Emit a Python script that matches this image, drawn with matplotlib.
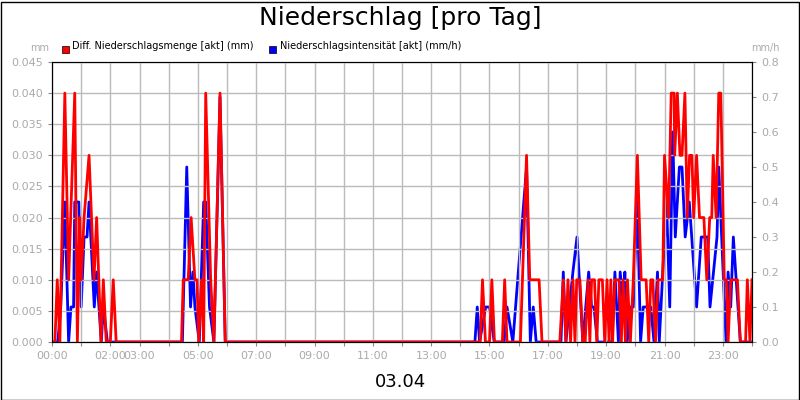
import matplotlib
matplotlib.use("Agg")
import matplotlib.pyplot as plt
from matplotlib.patches import Rectangle

red_t = [0, 0.1, 0.18, 0.27, 0.44, 0.57, 0.78, 0.87, 0.95, 1.0, 1.1, 1.27, 1.44, 1.53, 1.68, 1.76, 1.86, 2.0, 2.1, 2.2,
         4.44, 4.5, 4.67, 4.77, 4.9, 4.97, 5.03, 5.13, 5.2, 5.27, 5.44, 5.55, 5.76, 5.94,
         14.68, 14.76, 14.86, 15.0, 15.08, 15.17, 15.44, 15.52, 15.6, 16.06, 16.27, 16.38, 16.7, 16.8,
         17.41, 17.53, 17.62, 17.69, 17.78, 17.86, 17.93, 17.99, 18.1, 18.2, 18.28, 18.38, 18.44, 18.5, 18.6, 18.68,
         18.75, 18.87, 18.95, 19.03, 19.1, 19.16, 19.22, 19.3, 19.44, 19.52, 19.58, 19.66, 19.73, 19.83, 19.93,
         20.07, 20.2, 20.37, 20.46, 20.53, 20.6, 20.69, 20.78, 20.94, 21.0, 21.14, 21.23, 21.33, 21.35, 21.44,
         21.53, 21.6, 21.7, 21.78, 21.86, 21.94, 22.0, 22.1, 22.2, 22.35, 22.45, 22.55, 22.62, 22.67, 22.77,
         22.86, 22.93, 23.05, 23.12, 23.18, 23.27, 23.5, 23.6, 23.78, 23.84, 23.93, 24.0]
red_v = [0, 0, 0.01, 0, 0.04, 0.01, 0.04, 0, 0.02, 0.01, 0.02, 0.03, 0.01, 0.02, 0, 0.01, 0, 0, 0.01, 0,
         0, 0.01, 0.01, 0.02, 0.01, 0.01, 0, 0.01, 0, 0.04, 0.01, 0, 0.04, 0,
         0, 0.01, 0, 0, 0.01, 0, 0, 0.01, 0, 0, 0.03, 0.01, 0.01, 0,
         0, 0.01, 0, 0.01, 0, 0.01, 0, 0.01, 0.01, 0, 0, 0.01, 0, 0.01, 0.01, 0,
         0.01, 0.01, 0, 0.01, 0, 0.01, 0, 0.01, 0.01, 0, 0.01, 0, 0.01, 0, 0.01,
         0.03, 0.01, 0.01, 0, 0.01, 0.01, 0, 0.01, 0.01, 0.03, 0.02, 0.04, 0.04, 0.03, 0.04,
         0.03, 0.03, 0.04, 0.02, 0.03, 0.03, 0.02, 0.03, 0.02, 0.02, 0.01, 0.02, 0.02, 0.03, 0.02,
         0.04, 0.04, 0.01, 0.01, 0, 0.01, 0.01, 0, 0, 0.01, 0, 0.01]

blue_t = [0, 0.2, 0.3, 0.44, 0.57, 0.65, 0.74, 0.78, 0.92, 1.0, 1.1, 1.2, 1.27, 1.45, 1.53, 1.69, 1.76, 1.9,
          4.47, 4.62, 4.75, 4.83, 4.9, 5.05, 5.2, 5.27, 5.4, 5.55, 5.76, 5.94,
          14.5, 14.58, 14.66, 14.87, 15.0, 15.16, 15.5, 15.6, 15.8, 16.27, 16.4, 16.5, 16.6,
          17.45, 17.53, 17.62, 17.86, 18.0, 18.2, 18.4, 18.5, 18.58, 18.7, 19.2, 19.3, 19.42, 19.48, 19.6, 19.64, 19.72,
          19.83, 19.93, 20.07, 20.18, 20.27, 20.53, 20.64, 20.76, 20.82, 20.94, 21.07, 21.18, 21.28, 21.37,
          21.51, 21.6, 21.71, 21.85, 22.1, 22.26, 22.48, 22.56, 22.8, 22.86, 23.11, 23.18, 23.27, 23.36, 23.6, 24.0]
blue_v = [0, 0, 0.1, 0.4, 0, 0.1, 0.1, 0.4, 0.4, 0.1, 0.3, 0.3, 0.4, 0.1, 0.2, 0, 0.1, 0,
          0, 0.5, 0.1, 0.2, 0.1, 0, 0.4, 0.4, 0.1, 0, 0.7, 0,
          0, 0.1, 0, 0.1, 0.1, 0, 0, 0.1, 0, 0.5, 0, 0.1, 0,
          0, 0.2, 0, 0.2, 0.3, 0, 0.2, 0.1, 0.1, 0, 0, 0.2, 0, 0.2, 0.1, 0.2, 0,
          0.1, 0.1, 0.4, 0, 0.1, 0.1, 0, 0.2, 0, 0.2, 0.4, 0.1, 0.6, 0.3,
          0.5, 0.5, 0.3, 0.4, 0.1, 0.3, 0.3, 0.1, 0.3, 0.5, 0, 0.2, 0.1, 0.3, 0, 0]

x_ticks = list(range(25))
x_labels = {0: "00:00", 2: "02:00", 3: "03:00", 5: "05:00", 7: "07:00", 9: "09:00", 11: "11:00",
            13: "13:00", 15: "15:00", 17: "17:00", 19: "19:00", 21: "21:00", 23: "23:00"}
left_ticks = [i * 0.005 for i in range(10)]
right_ticks = [i * 0.1 for i in range(9)]

gray = "#aaaaaa"
fig = plt.figure(figsize=(8, 4), dpi=100)
ax = fig.add_axes([52/800, 58/400, 700/800, 280/400])
ax2 = ax.twinx()
ax2.plot(blue_t, blue_v, color="#0000ff", lw=2)
ax.set_zorder(ax2.get_zorder() + 1)
ax.patch.set_visible(False)
ax.plot(red_t, red_v, color="#ff0000", lw=2)
ax.set_xlim(0, 24)
ax.set_ylim(0, 0.045)
ax2.set_ylim(0, 0.8)
ax.set_xticks(x_ticks)
ax.set_xticklabels([x_labels.get(t, "") for t in x_ticks])
ax.set_yticks(left_ticks)
ax.set_yticklabels([f"{v:.3f}" for v in left_ticks])
ax2.set_yticks(right_ticks)
ax2.set_yticklabels([f"{v:.1f}" for v in right_ticks])
ax.grid(True, color="#bbbbbb", lw=1)
for a in (ax, ax2):
    a.tick_params(colors=gray, labelsize=8, length=3)
    a.tick_params(axis="both", labelcolor=gray, color="#888888")
    for s in a.spines.values():
        s.set_color("black")
fig.text(0.5, 0.955, "Niederschlag [pro Tag]", ha="center", va="center", fontsize=18)
fig.text(0.5, 0.045, "03.04", ha="center", va="center", fontsize=13)
fig.text(40/800, 48/400 * -1 + 1, "mm", ha="center", va="center", fontsize=7, color=gray)
fig.text(765/800, 1 - 48/400, "mm/h", ha="center", va="center", fontsize=7, color=gray)
fig.patches.append(Rectangle((62/800, 1 - 48/400 - 0.012), 7/800, 7/400, transform=fig.transFigure, color="red", ec="black", lw=0.5))
fig.text(72/800, 1 - 46/400, "Diff. Niederschlagsmenge [akt] (mm)", fontsize=7, va="center")
fig.patches.append(Rectangle((269/800, 1 - 48/400 - 0.012), 7/800, 7/400, transform=fig.transFigure, color="blue", ec="black", lw=0.5))
fig.text(280/800, 1 - 46/400, "Niederschlagsintensität [akt] (mm/h)", fontsize=7, va="center")
fig.patches.append(Rectangle((0.5/800, 0.5/400), 798/800, 398/400, transform=fig.transFigure, fill=False, ec="black", lw=1))
fig.savefig("out.png", dpi=100)
